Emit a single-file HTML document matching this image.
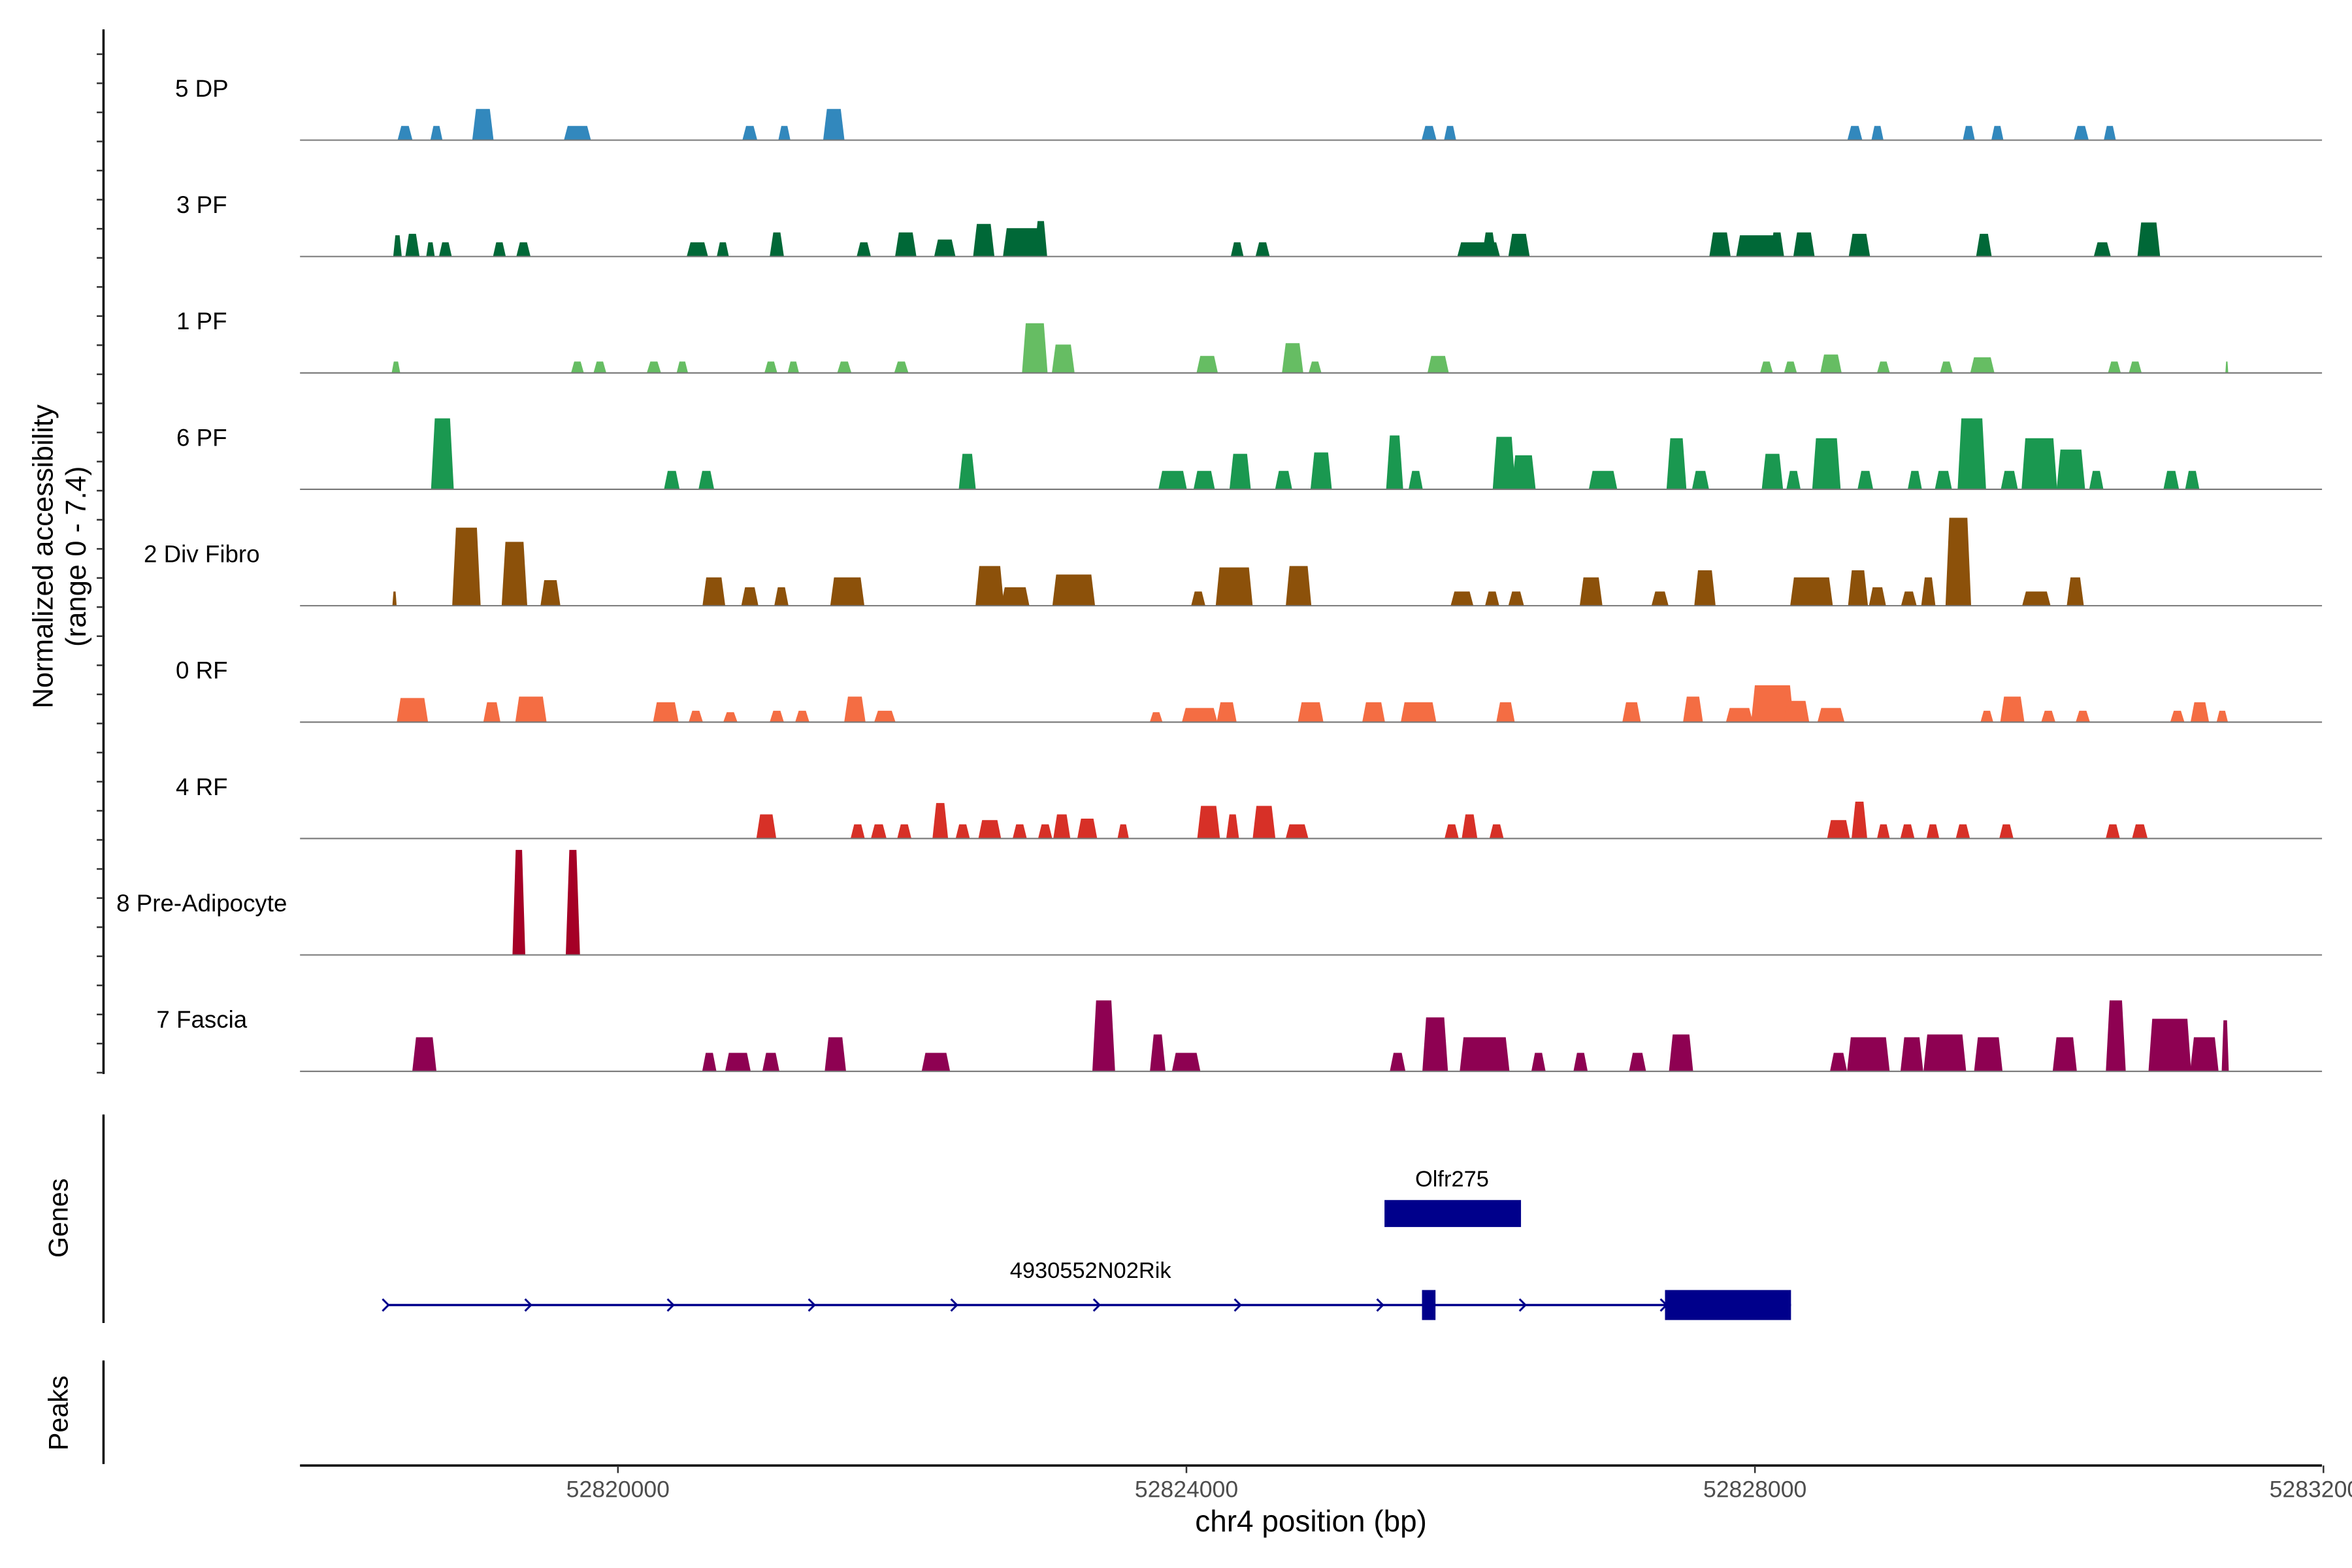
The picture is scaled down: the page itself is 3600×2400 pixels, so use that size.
<!DOCTYPE html>
<html><head><meta charset="utf-8"><style>
html,body{margin:0;padding:0;background:#fff;}
svg{display:block;font-family:"Liberation Sans",Arial,sans-serif;}
</style></head><body>
<svg id="chart" width="3600" height="2400" viewBox="0 0 1568 1045.3" xmlns="http://www.w3.org/2000/svg">
<rect x="0" y="0" width="1568" height="1046" fill="#fff"/>
<g id="tracks"></g>
<g id="yaxis">
<line x1="69" y1="19.6" x2="69" y2="716" stroke="#000" stroke-width="1.5"/>
</g>
<text transform="translate(35,371) rotate(-90)" text-anchor="middle" font-size="19" fill="#000">Normalized accessibility</text>
<text transform="translate(57,371) rotate(-90)" text-anchor="middle" font-size="19" fill="#000">(range 0 - 7.4)</text>

<g>
<line x1="69" y1="743" x2="69" y2="882" stroke="#000" stroke-width="1.5"/>
<text transform="translate(45,812) rotate(-90)" text-anchor="middle" font-size="18">Genes</text>
<text x="968" y="791" text-anchor="middle" font-size="15">Olfr275</text>
<rect x="923" y="800" width="91" height="18" fill="#00008b"/>
<text x="727" y="852" text-anchor="middle" font-size="15">4930552N02Rik</text>
<line x1="258" y1="870" x2="1194" y2="870" stroke="#00008b" stroke-width="1.5"/>
<g id="arrows"></g>
<rect x="948" y="860" width="9" height="20" fill="#00008b"/>
<rect x="1110" y="860" width="84" height="20" fill="#00008b"/>
</g>
<g>
<line x1="69" y1="907" x2="69" y2="976" stroke="#000" stroke-width="1.5"/>
<text transform="translate(45,942) rotate(-90)" text-anchor="middle" font-size="18">Peaks</text>
</g>
<g id="xaxis">
<line x1="200" y1="977" x2="1548" y2="977" stroke="#000" stroke-width="1.5"/>
</g>
<text x="874" y="1021" text-anchor="middle" font-size="20">chr4 position (bp)</text>
</svg>
<script>
const regionStart = 52817763;
const regionEnd = 52832000;
const trackNames = ["5 DP","3 PF","1 PF","6 PF","2 Div Fibro","0 RF","4 RF","8 Pre-Adipocyte","7 Fascia"];
const trackColors = ["#3288bd","#006837","#66bd63","#1a9850","#8c510a","#f46d43","#d73027","#a50026","#8e0152"];
// peaks: [offset from regionStart (bp), width (bp), normalized height]
const dp5 = [[739,105,1],[960,85,1],[1287,150,2.2],[1952,190,1],[3165,105,1],[3408,85,1],[3756,150,2.2],[7944,105,1],[8092,85,1],[10940,105,1],[11099,85,1],[11742,85,1],[11943,85,1],[12533,105,1],[12734,85,1]];
const pf3 = [[686,60,1.5],[791,100,1.6],[918,60,1],[1023,90,1],[1403,90,1],[1572,100,1],[2796,150,1],[2975,85,1],[3355,100,1.7],[3967,100,1],[4262,150,1.7],[4537,150,1.2],[4811,150,2.3],[5096,300,2],[5212,90,2.5],[6594,90,1],[6773,100,1],[8293,300,1],[8367,100,1.7],[8577,150,1.6],[9991,150,1.7],[10255,300,1.5],[10392,100,1.7],[10582,150,1.7],[10972,150,1.6],[11848,110,1.6],[12681,120,1],[13008,160,2.4]];
const pf1 = [[675,60,0.8],[1952,90,0.8],[2110,90,0.8],[2490,100,0.8],[2690,80,0.8],[3313,90,0.8],[3471,80,0.8],[3830,100,0.8],[4231,100,0.8],[5170,180,3.5],[5370,160,2],[6383,150,1.2],[6984,150,2.1],[7142,90,0.8],[8008,150,1.2],[10318,90,0.8],[10487,90,0.8],[10772,150,1.3],[11141,90,0.8],[11584,90,0.8],[11837,170,1.1],[12766,90,0.8],[12913,90,0.8],[13557,20,0.8]];
const pf6 = [[1002,160,5],[2616,110,1.3],[2859,110,1.3],[4695,120,2.5],[6140,200,1.3],[6362,150,1.3],[6615,150,2.5],[6921,120,1.3],[7185,150,2.6],[7702,120,3.8],[7850,100,1.3],[8472,160,3.7],[8609,170,2.4],[9168,200,1.3],[9685,140,3.6],[9854,120,1.3],[10360,150,2.5],[10508,100,1.3],[10740,200,3.6],[11014,110,1.3],[11362,100,1.3],[11563,120,1.3],[11763,200,5],[12027,120,1.3],[12238,250,3.6],[12460,200,2.8],[12639,100,1.3],[13166,110,1.3],[13314,100,1.3]];
const divFibro2 = [[665,30,1],[1171,200,5.5],[1509,180,4.5],[1762,140,1.8],[2912,160,2],[3165,120,1.3],[3387,100,1.3],[3851,240,2],[4853,200,2.8],[5032,200,1.3],[5444,300,2.2],[6320,100,1],[6573,260,2.7],[7026,180,2.8],[8176,160,1],[8388,100,1],[8557,110,1],[9084,160,2],[9569,120,1],[9885,150,2.5],[10635,300,2],[10962,140,2.5],[11099,120,1.3],[11320,110,1],[11457,100,2],[11668,180,6.2],[12217,200,1],[12491,120,2]];
const rf0 = [[791,220,1.7],[1350,120,1.4],[1625,220,1.8],[2574,180,1.4],[2785,100,0.8],[3028,100,0.7],[3355,100,0.8],[3534,100,0.8],[3904,150,1.8],[4115,150,0.8],[6024,90,0.7],[6330,250,1],[6520,140,1.4],[7111,180,1.4],[7554,160,1.4],[7870,250,1.4],[8482,130,1.4],[9369,130,1.4],[9801,140,1.8],[10128,190,1],[10360,300,2.6],[10529,180,1.5],[10772,190,1],[11869,90,0.8],[12048,170,1.8],[12301,100,0.8],[12544,100,0.8],[13209,100,0.8],[13367,130,1.4],[13525,80,0.8]];
const rf4 = [[3281,140,1.7],[3924,100,1],[4072,110,1],[4252,100,1],[4505,110,2.5],[4663,100,1],[4853,160,1.3],[5064,100,1],[5243,100,1],[5360,120,1.7],[5539,140,1.4],[5792,80,1],[6393,160,2.3],[6562,90,1.7],[6783,160,2.3],[7015,160,1],[8103,100,1],[8229,110,1.7],[8419,100,1],[10825,160,1.3],[10972,110,2.6],[11141,90,1],[11310,100,1],[11489,90,1],[11700,100,1],[12006,100,1],[12755,100,1],[12945,110,1]];
const preAdipo8 = [[1540,90,7.4],[1920,100,7.4]];
const fascia7 = [[875,170,2.4],[2880,100,1.3],[3081,180,1.3],[3313,120,1.3],[3767,150,2.4],[4474,200,1.3],[5655,160,5],[6035,110,2.6],[6235,200,1.3],[7723,110,1.3],[7987,180,3.8],[8335,350,2.4],[8714,100,1.3],[9010,100,1.3],[9411,120,1.3],[9717,170,2.6],[10825,120,1.3],[11035,300,2.4],[11341,160,2.4],[11573,300,2.6],[11879,200,2.4],[12417,170,2.4],[12776,140,5],[13156,300,3.7],[13399,200,2.4],[13546,50,3.6]];
const trackPeaks = [dp5,pf3,pf1,pf6,divFibro2,rf0,rf4,preAdipo8,fascia7];
const xTickValues = [52820000,52824000,52828000,52832000];
const xTickLabels = ["52820000","52824000","52828000","5283200"];
const arrowPositions = [52818375,52819378,52820380,52821373,52822375,52823378,52824370,52825372,52826375,52827367];

const NS = "http://www.w3.org/2000/svg";
const X0 = 200, X1 = 1548;
const bpPerPx = 10.554;
function xScale(bp){ return X0 + (bp - regionStart) / bpPerPx; }
const maxVal = 7.4, trackH = 77.6, firstBase = 93.4, pxPerUnit = 70 / maxVal;
function yScale(v, base){ return base - v * pxPerUnit; }

const tracks = document.getElementById('tracks');
trackNames.forEach((name, i) => {
  const base = firstBase + i * trackH;
  const g = document.createElementNS(NS,'g');
  
  
  const lab = document.createElementNS(NS,'text');
  
  
  lab.setAttribute('x', 134.5); lab.setAttribute('y', base - 29);
  lab.setAttribute('text-anchor','middle'); lab.setAttribute('font-size','16');
  lab.textContent = name;
  g.appendChild(lab);
  trackPeaks[i].forEach(p => {
    const s = regionStart + p[0] - p[1]/2, e = regionStart + p[0] + p[1]/2;
    const xs = xScale(s), xe = xScale(e), yt = yScale(p[2], base);
    const sl = Math.min(2.5, (xe - xs) / 4);
    const poly = document.createElementNS(NS,'polygon');
    
    
    poly.setAttribute('points', `${xs},${base} ${xs+sl},${yt} ${xe-sl},${yt} ${xe},${base}`);
    poly.setAttribute('fill', trackColors[i]);
    g.appendChild(poly);
  });
  const bl = document.createElementNS(NS,'line');
  
  
  bl.setAttribute('x1', X0); bl.setAttribute('x2', X1);
  bl.setAttribute('y1', base); bl.setAttribute('y2', base);
  bl.setAttribute('stroke', '#777'); bl.setAttribute('stroke-width', '0.9');
  g.appendChild(bl);
  tracks.appendChild(g);
});

const yaxis = document.getElementById('yaxis');
for (let y = 36.1; y < 716; y += trackH / 4) {
  const t = document.createElementNS(NS,'line');
  
  
  t.setAttribute('x1', 64.5); t.setAttribute('x2', 69);
  t.setAttribute('y1', y); t.setAttribute('y2', y);
  t.setAttribute('stroke', '#333'); t.setAttribute('stroke-width', '1.1');
  yaxis.appendChild(t);
}

const xaxis = document.getElementById('xaxis');
xTickValues.forEach((v, i) => {
  const x = xScale(v);
  const t = document.createElementNS(NS,'line');
  
  
  t.setAttribute('x1', x); t.setAttribute('x2', x);
  t.setAttribute('y1', 977); t.setAttribute('y2', 982);
  t.setAttribute('stroke', '#333'); t.setAttribute('stroke-width', '1.1');
  xaxis.appendChild(t);
  const l = document.createElementNS(NS,'text');
  
  
  l.setAttribute('x', x); l.setAttribute('y', 998);
  l.setAttribute('text-anchor', i === xTickValues.length - 1 ? 'start' : 'middle');
  if (i === xTickValues.length - 1) l.setAttribute('x', x - 36);
  l.setAttribute('font-size', '15.5'); l.setAttribute('fill', '#4d4d4d');
  l.textContent = xTickLabels[i];
  xaxis.appendChild(l);
});

const arrows = document.getElementById('arrows');
arrowPositions.forEach(v => {
  const x = xScale(v);
  const a = document.createElementNS(NS,'polyline');
  
  
  a.setAttribute('points', `${x-3},${866} ${x+1},${870} ${x-3},${874}`);
  a.setAttribute('fill', 'none'); a.setAttribute('stroke', '#00008b'); a.setAttribute('stroke-width', '1.3');
  arrows.appendChild(a);
});
</script>
</body></html>
